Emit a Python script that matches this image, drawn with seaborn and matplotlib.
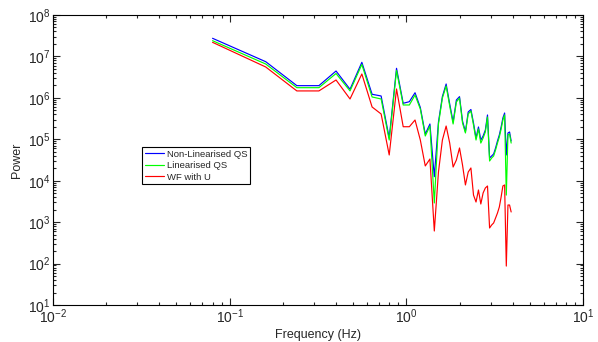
import numpy as np
import pandas as pd
import matplotlib
matplotlib.use('Agg')
import matplotlib.pyplot as plt
import seaborn as sns

# frequencies (Hz)
freq = [0.08, 0.16, 0.24, 0.32, 0.40, 0.48, 0.56, 0.64, 0.72, 0.80,
        0.88, 0.96, 1.04, 1.12, 1.20, 1.28, 1.36, 1.44, 1.52, 1.60,
        1.68, 1.76, 1.84, 1.92, 2.00, 2.08, 2.16, 2.24, 2.32, 2.40,
        2.48, 2.56, 2.64, 2.72, 2.80, 2.88, 2.96, 3.04, 3.12, 3.20,
        3.28, 3.36, 3.44, 3.52, 3.60, 3.68, 3.76, 3.84, 3.92]

non_lin_qs = [2.74e7, 7.46e6, 1.97e6, 1.97e6, 4.45e6, 1.61e6, 7.21e6, 1.22e6, 1.11e6, 1.07e5,
              5.17e6, 7.39e5, 8.08e5, 1.33e6, 5.85e5, 1.34e5, 2.34e5, 1.25e4, 2.61e5, 1.08e6,
              2.16e6, 7.11e5, 2.61e5, 8.88e5, 1.07e6, 2.76e5, 1.52e5, 4.56e5, 5.24e5, 2.47e5,
              1.07e5, 1.98e5, 9.6e4, 1.2e5, 1.67e5, 3.86e5, 3.53e4, 3.95e4, 4.42e4, 6.17e4,
              9.1e4, 1.27e5, 1.98e5, 3.27e5, 4.31e5, 4.18e4, 1.42e5, 1.5e5, 9.1e4]

lin_qs = [2.4e7, 6.56e6, 1.76e6, 1.76e6, 3.87e6, 1.47e6, 6.39e6, 1.05e6, 9.4e5, 9.6e4,
          4.57e6, 6.73e5, 6.73e5, 1.17e6, 5.38e5, 1.2e5, 2.09e5, 2.9e3, 2.34e5, 9.9e5,
          1.93e6, 6.37e5, 2.34e5, 7.94e5, 9.9e5, 2.47e5, 1.42e5, 4.08e5, 4.82e5, 2.21e5,
          9.6e4, 1.77e5, 8.1e4, 1.07e5, 1.5e5, 3.45e5, 2.99e4, 3.53e4, 3.95e4, 5.52e4,
          8.1e4, 1.14e5, 1.77e5, 2.92e5, 3.86e5, 4.5e3, 1.27e5, 1.34e5, 8.1e4]

wf_with_u = [2.19e7, 5.56e6, 1.47e6, 1.47e6, 2.7e6, 9.4e5, 3.77e6, 6.02e5, 4.08e5, 4.18e4,
             1.64e6, 2.01e5, 2.01e5, 2.92e5, 9.6e4, 2.27e4, 3.34e4, 611, 1.62e4, 9.6e4,
             2.09e5, 8.1e4, 2.14e4, 3.16e4, 6.17e4, 2.39e4, 7.9e3, 1.62e4, 2.03e4, 4.5e3,
             3.06e3, 5.97e3, 2.74e3, 5.06e3, 6.67e3, 7.46e3, 723, 853, 955, 1.26e3,
             1.66e3, 2.32e3, 4.05e3, 7.46e3, 7.9e3, 87, 2.59e3, 2.59e3, 1.76e3]

labels = ['Non-Linearised QS', 'Linearised QS', 'WF with U']
colors = ['#0000ff', '#00ff00', '#ff0000']

df = pd.concat([
    pd.DataFrame({'freq': freq, 'power': non_lin_qs, 'series': labels[0]}),
    pd.DataFrame({'freq': freq, 'power': lin_qs, 'series': labels[1]}),
    pd.DataFrame({'freq': freq, 'power': wf_with_u, 'series': labels[2]}),
], ignore_index=True)

sns.set_style('ticks')
plt.rcParams['font.family'] = ['Liberation Sans', 'DejaVu Sans']
plt.rcParams['mathtext.fontset'] = 'custom'
plt.rcParams['mathtext.rm'] = 'Liberation Sans'

fig = plt.figure(figsize=(5.98, 3.42), dpi=100)
ax = fig.add_axes([53/598, 1-305/342, 530/598, 290/342])

sns.lineplot(data=df, x='freq', y='power', hue='series', hue_order=labels,
             palette=colors, estimator=None, sort=False, linewidth=0.85, ax=ax)

ax.set_xscale('log')
ax.set_yscale('log')
ax.set_xlim(1e-2, 1e1)
ax.set_ylim(1e1, 1e8)
ax.set_xlabel('Frequency (Hz)', fontsize=9, labelpad=2)
ax.set_ylabel('Power', fontsize=9, labelpad=3)

ax.tick_params(which='both', direction='in', top=True, right=True, labelsize=10, width=0.8)
ax.tick_params(which='major', length=5, pad=2)
ax.tick_params(which='minor', length=2.5)
for s in ax.spines.values():
    s.set_linewidth(0.8)
    s.set_color('black')

leg = ax.legend(loc='upper left', bbox_to_anchor=(0.168, 0.545), fontsize=6.8,
                frameon=True, fancybox=False, framealpha=1, edgecolor='black',
                handlelength=2.0, handletextpad=0.3, borderpad=0.3, labelspacing=0.25,
                borderaxespad=0)
leg.get_frame().set_linewidth(0.8)

fig.savefig('out.png', dpi=100)
